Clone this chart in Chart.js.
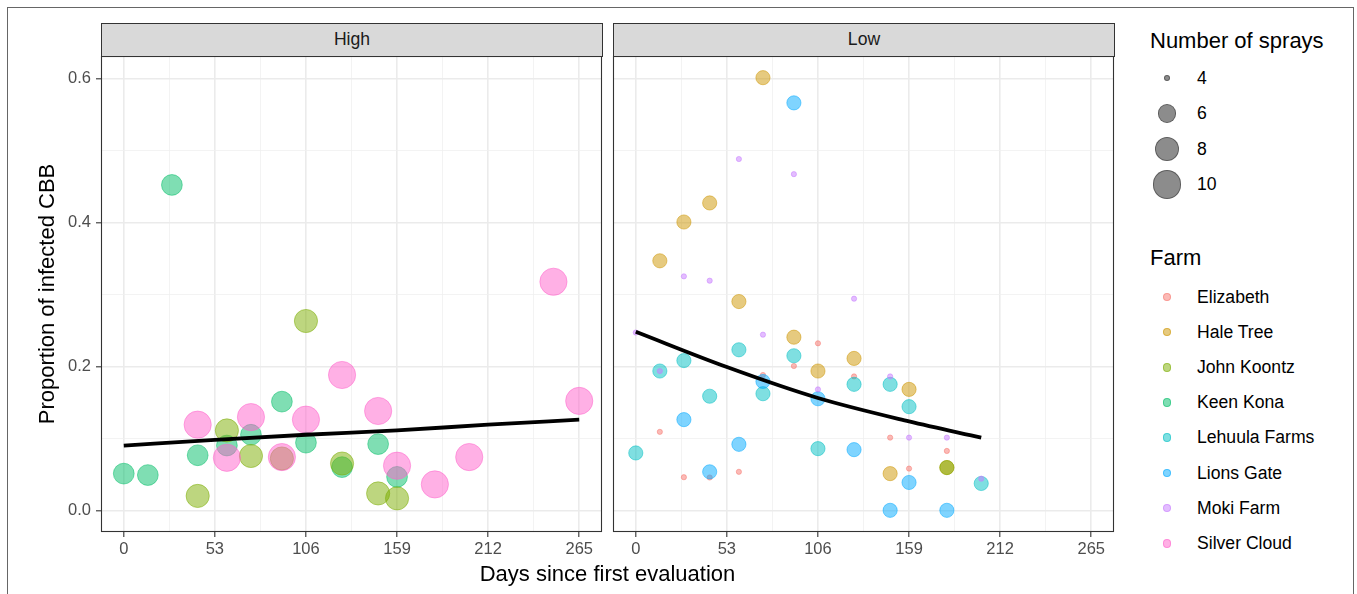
<!DOCTYPE html>
<html>
<head>
<meta charset="utf-8">
<script src="https://cdn.jsdelivr.net/npm/chart.js@4.4.1/dist/chart.umd.min.js"></script>
<style>
  html, body { margin: 0; padding: 0; background: #fff; }
  body { width: 1357px; height: 594px; position: relative; overflow: hidden;
         font-family: 'Liberation Sans', Arial, sans-serif; }
  canvas { position: absolute; top: 0; }
  .frame { position: absolute; left: 7px; top: 7px; width: 1347px; height: 620px;
           border: 1px solid #666; box-sizing: border-box; }
  .strip { position: absolute; top: 23px; height: 34px; background: #D9D9D9;
           border: 1px solid #333; box-sizing: border-box; text-align: center;
           font-size: 17.6px; line-height: 31px; color: #1A1A1A; }
  .title { position: absolute; font-size: 22px; line-height: 22px; color: #000; white-space: nowrap; }
  .leg { position: absolute; left: 1150px; height: 30px; display: flex; align-items: center;
         font-size: 17.6px; color: #000; white-space: nowrap; }
  .leg .dotbox { width: 47px; position: relative; height: 30px; }
  .leg .dot { position: absolute; border-radius: 50%; box-sizing: border-box; }
</style>
</head>
<body>
<div class="frame"></div>
<canvas id="cHigh" width="618" height="594" style="left:0px"></canvas>
<canvas id="cLow" width="533" height="594" style="left:597px"></canvas>
<div class="strip" style="left:101px;width:502px;">High</div>
<div class="strip" style="left:613px;width:502px;">Low</div>
<div class="title" style="left:0; width:1215px; top:563px; text-align:center;">Days since first evaluation</div>
<div class="title" style="left:-153px; top:283px; width:400px; text-align:center; transform:rotate(-90deg);">Proportion of infected CBB</div>
<div class="title" style="left:1150px; top:30px;">Number of sprays</div>
<div class="title" style="left:1150px; top:247px;">Farm</div>
<div id="legend"></div>
<script>
// ---------------- data ----------------
const farms = ['Elizabeth', 'Hale Tree', 'John Koontz', 'Keen Kona', 'Lehuula Farms', 'Lions Gate', 'Moki Farm', 'Silver Cloud'];
const farmSprays = [4, 5, 8, 7, 5, 5, 4, 10];
const lowJohnKoontzSprays = 5;
const sprayLegend = [4, 6, 8, 10];

const xTicks = [0, 26.5, 53, 79.5, 106, 132.5, 159, 185.5, 212, 238.5, 265];
const xTickLabels = ['0', '', '53', '', '106', '', '159', '', '212', '', '265'];
const yTicks = [0, 0.1, 0.2, 0.3, 0.4, 0.5, 0.6];
const yTickLabels = ['0.0', '', '0.2', '', '0.4', '', '0.6'];

// High panel
const highKeenKonaDays = [0, 14, 28, 43, 60, 74, 92, 106, 127, 148, 159];
const highKeenKonaProp = [0.051, 0.049, 0.452, 0.0765, 0.090, 0.105, 0.151, 0.094, 0.060, 0.092, 0.0465];
const highJohnKoontzDays = [43, 60, 74, 92, 106, 127, 148, 159];
const highJohnKoontzProp = [0.020, 0.111, 0.0755, 0.072, 0.263, 0.065, 0.0235, 0.0166];
const highSilverCloudDays = [43, 60, 74, 92, 106, 127, 148, 159, 181, 201, 250, 265];
const highSilverCloudProp = [0.119, 0.073, 0.1295, 0.074, 0.126, 0.188, 0.138, 0.062, 0.036, 0.074, 0.3175, 0.152];
const highFitDays = [0, 53, 106, 159, 212, 265];
const highFitProp = [0.090, 0.098, 0.105, 0.111, 0.119, 0.126];

// Low panel
const lowElizabethDays = [106, 92, 74, 127, 14, 148, 181, 159, 43, 28, 60];
const lowElizabethProp = [0.232, 0.2005, 0.188, 0.186, 0.109, 0.101, 0.0825, 0.058, 0.0456, 0.046, 0.0535];
const lowHaleTreeDays = [74, 43, 28, 14, 60, 92, 127, 106, 159, 148, 181];
const lowHaleTreeProp = [0.601, 0.427, 0.4005, 0.3466, 0.290, 0.2405, 0.211, 0.1935, 0.168, 0.051, 0.0594];
const lowJohnKoontzDays = [181];
const lowJohnKoontzProp = [0.0594];
const lowLehuulaDays = [60, 92, 28, 14, 127, 148, 74, 43, 159, 0, 106, 201];
const lowLehuulaProp = [0.223, 0.2147, 0.208, 0.1935, 0.175, 0.175, 0.162, 0.1585, 0.144, 0.0797, 0.0857, 0.0373];
const lowLionsGateDays = [92, 74, 106, 28, 60, 127, 43, 159, 148, 181];
const lowLionsGateProp = [0.566, 0.179, 0.155, 0.126, 0.0917, 0.0843, 0.0535, 0.0387, 0.0, 0.0];
const lowMokiDays = [60, 92, 28, 43, 127, 0, 74, 14, 148, 106, 159, 181, 201];
const lowMokiProp = [0.488, 0.467, 0.325, 0.319, 0.294, 0.247, 0.244, 0.1935, 0.186, 0.168, 0.101, 0.101, 0.044];
const lowFitDays = [0, 53, 106, 159, 201];
const lowFitProp = [0.248, 0.199, 0.156, 0.1235, 0.101];

// ---------------- styling ----------------
const farmColors = ['248,118,109', '205,150,0', '124,174,0', '0,190,103', '0,191,196', '0,169,255', '199,124,255', '255,97,204'];
const ALPHA = 0.5;
const FONT = "'Liberation Sans', Arial, sans-serif";
function sprayRadius(s) {            // ggplot-like area scale, visual radius in px
  const size = 1 + 5 * Math.sqrt((s - 4) / 6);
  return 2.2 * size + 0.9;
}
function pts(days, prop) { return days.map((d, i) => ({ x: d, y: prop[i] })); }
function farmSet(fi, days, prop, sprays, order) {
  const c = 'rgba(' + farmColors[fi] + ',' + ALPHA + ')';
  return { label: farms[fi], data: pts(days, prop), backgroundColor: c, borderColor: c,
           borderWidth: 1, pointRadius: sprayRadius(sprays) - 0.5, pointHoverRadius: sprayRadius(sprays) - 0.5,
           showLine: false, order: order };
}
function fitSet(days, prop) {
  return { data: pts(days, prop), showLine: true, borderColor: '#000', borderWidth: 3.8,
           pointRadius: 0, cubicInterpolationMode: 'monotone', order: 0, fill: false };
}

const panelBorder = {
  id: 'panelBorder',
  afterDraw(chart) {
    const a = chart.chartArea, ctx = chart.ctx;
    ctx.save();
    ctx.strokeStyle = '#333';
    ctx.lineWidth = 1.1;
    ctx.strokeRect(a.left + 0.5, a.top + 0.5, a.right - a.left - 1, a.bottom - a.top - 1);
    ctx.restore();
  }
};

function gridOpts(showTicks) {
  return {
    color: c => (c.index % 2 === 0 ? '#EBEBEB' : '#F0F0F0'),
    lineWidth: c => (c.index % 2 === 0 ? 1.6 : 0.8),
    drawTicks: showTicks,
    tickLength: 5,
    tickColor: c => (c.index % 2 === 0 ? '#333' : 'rgba(0,0,0,0)'),
    tickWidth: 1.1
  };
}

// padding right 16 / axis width >= 16 so that Chart.js's point-overflow padding never shifts the plot area
function makeOptions(showY, yWidth) {
  return {
    responsive: false, animation: false, devicePixelRatio: 1,
    layout: { padding: { top: 56, left: 0, right: 16, bottom: 0 } },
    plugins: { legend: { display: false }, tooltip: { enabled: false }, title: { display: false } },
    scales: {
      x: {
        type: 'linear', min: -13.25, max: 278.25,
        afterBuildTicks: s => { s.ticks = xTicks.map(v => ({ value: v })); },
        afterFit: s => { s.height = 62; },
        ticks: { autoSkip: false, maxRotation: 0, padding: 3, color: '#4D4D4D',
                 font: { family: FONT, size: 16.5 },
                 callback: (v, i) => xTickLabels[i] },
        grid: gridOpts(true),
        border: { display: false }
      },
      y: {
        type: 'linear', min: -0.0301, max: 0.6311,
        afterBuildTicks: s => { s.ticks = yTicks.map(v => ({ value: v })); },
        afterFit: s => { s.width = yWidth; },
        ticks: { display: showY, autoSkip: false, padding: 5, color: '#4D4D4D',
                 font: { family: FONT, size: 16.5 },
                 callback: (v, i) => yTickLabels[i] },
        grid: gridOpts(showY),
        border: { display: false }
      }
    }
  };
}

new Chart(document.getElementById('cHigh'), {
  type: 'scatter',
  data: { datasets: [
    farmSet(3, highKeenKonaDays, highKeenKonaProp, farmSprays[3], 3),
    farmSet(2, highJohnKoontzDays, highJohnKoontzProp, farmSprays[2], 2),
    farmSet(7, highSilverCloudDays, highSilverCloudProp, farmSprays[7], 1),
    fitSet(highFitDays, highFitProp)
  ] },
  options: makeOptions(true, 101),
  plugins: [panelBorder]
});

new Chart(document.getElementById('cLow'), {
  type: 'scatter',
  data: { datasets: [
    farmSet(0, lowElizabethDays, lowElizabethProp, farmSprays[0], 6),
    farmSet(1, lowHaleTreeDays, lowHaleTreeProp, farmSprays[1], 5),
    farmSet(2, lowJohnKoontzDays, lowJohnKoontzProp, lowJohnKoontzSprays, 4),
    farmSet(4, lowLehuulaDays, lowLehuulaProp, farmSprays[4], 3),
    farmSet(5, lowLionsGateDays, lowLionsGateProp, farmSprays[5], 2),
    farmSet(6, lowMokiDays, lowMokiProp, farmSprays[6], 1),
    fitSet(lowFitDays, lowFitProp)
  ] },
  options: makeOptions(false, 16),
  plugins: [panelBorder]
});

// ---------------- legends (HTML) ----------------
const legend = document.getElementById('legend');
const sprayCenters = [78, 113.5, 149, 184.5];
sprayLegend.forEach((s, i) => {
  const r = sprayRadius(s);
  const d = document.createElement('div');
  d.className = 'leg';
  d.style.top = (sprayCenters[i] - 15) + 'px';
  d.innerHTML = '<div class="dotbox"><div class="dot" style="left:' + (17 - r) + 'px;top:' + (15 - r) +
    'px;width:' + (2 * r) + 'px;height:' + (2 * r) + 'px;background:rgba(0,0,0,0.45);border:1px solid rgba(0,0,0,0.35);"></div></div><span>' + s + '</span>';
  legend.appendChild(d);
});
farms.forEach((f, i) => {
  const r = 4.3;
  const c = 'rgba(' + farmColors[i] + ',' + ALPHA + ')';
  const d = document.createElement('div');
  d.className = 'leg';
  d.style.top = (297 + i * 35.2 - 15) + 'px';
  d.innerHTML = '<div class="dotbox"><div class="dot" style="left:' + (17 - r) + 'px;top:' + (15 - r) +
    'px;width:' + (2 * r) + 'px;height:' + (2 * r) + 'px;background:' + c + ';border:1px solid ' + c + ';"></div></div><span>' + f + '</span>';
  legend.appendChild(d);
});
</script>
</body>
</html>
